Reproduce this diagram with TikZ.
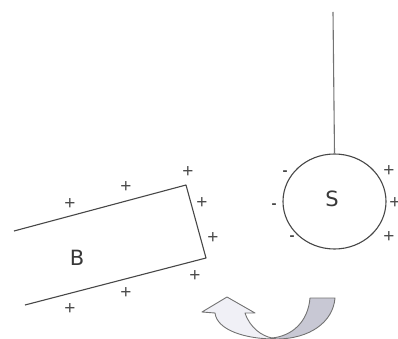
\documentclass[tikz,border=0pt]{standalone}
\usepackage{fontspec}
\setmainfont{Liberation Sans}
\newfontfamily\lblfont{DejaVu Sans}
\usetikzlibrary{shapes.geometric}
\definecolor{bandgray}{RGB}{200,200,212}
\definecolor{bandlight}{RGB}{240,240,246}
\begin{document}
\begin{tikzpicture}[x=1pt,y=-1pt,
  edge/.style={draw=black!72,line width=1.1pt},
  sgn/.style={font=\fontsize{19}{19}\selectfont,text=black!70,inner sep=0pt},
  msgn/.style={font=\fontsize{15}{15}\selectfont\bfseries,text=black!72,inner sep=0pt},
  lbl/.style={font=\lblfont\fontsize{21}{21}\selectfont,text=black!78,inner sep=0pt},
  band/.style={draw=black!55,line width=0.9pt,line join=round}]
\useasboundingbox (0,0) rectangle (398,339);
% plate B
\coordinate (b1) at (14,231);
\coordinate (b2) at (186,185);
\coordinate (b3) at (206,258);
\coordinate (b4) at (25,305);
\draw[edge,line join=round] (b1) -- (b2) -- (b3) -- (b4);
\node[lbl] (B) at (77,258) {B};
\foreach \p/\q [count=\i] in {70/204,126/187,188/172,202/203,213/238,195/276,126/293,70/309}
  \node[sgn] (pb\i) at (\p,\q) {+};
% sphere S
\node[draw=black!72,line width=1.1pt,ellipse,minimum width=103pt,minimum height=95pt,inner sep=0pt] (S) at (334.5,201.5) {};
\node[lbl] (Sl) at (332,199) {S};
\coordinate (top) at (333,12);
\draw[draw=black!55,line width=1.1pt] (top) -- (S.north);
\foreach \p/\q [count=\i] in {285/173,274/206,292/238}
  \node[msgn] (ms\i) at (\p,\q) {-};
\foreach \p/\q [count=\i] in {389/171,395/203,389/237}
  \node[sgn] (ps\i) at (\p,\q) {+};
% curved arrow
\draw[band,fill=bandgray] (276,339) .. controls (310,339) and (333,322) .. (335,298) -- (310,298) .. controls (308,322) and (292,336) .. (272,338) -- cycle;
\draw[band,fill=bandlight] (275,339) .. controls (245,339) and (217,330) .. (215,313) -- (202,312) -- (227,297) -- (255,313) -- (245,313) .. controls (250,328) and (262,336) .. (272,338) -- cycle;
\end{tikzpicture}
\end{document}
